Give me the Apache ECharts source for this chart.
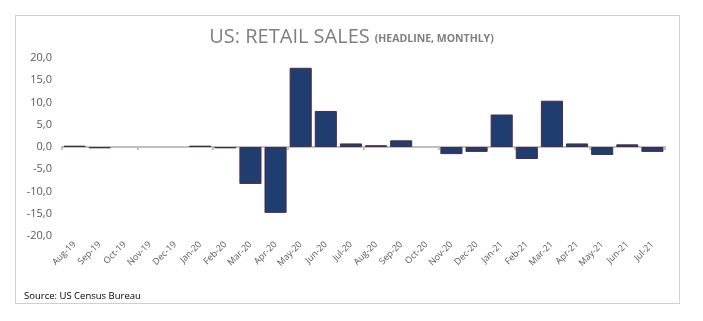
<!DOCTYPE html>
<html>
<head>
<meta charset="utf-8">
<script src="https://cdn.jsdelivr.net/npm/echarts@6/dist/echarts.min.js"></script>
<style>
html,body{margin:0;padding:0;background:#fff;}
#frame{position:absolute;left:15px;top:15px;width:665px;height:289px;border:1px solid #d0d0d0;box-sizing:border-box;}
#c{position:absolute;left:0;top:0;width:703px;height:321px;}
</style>
</head>
<body>
<div id="frame"></div>
<div id="c"></div>
<script>
const categories = ["Aug-19","Sep-19","Oct-19","Nov-19","Dec-19","Jan-20","Feb-20","Mar-20","Apr-20","May-20","Jun-20","Jul-20","Aug-20","Sep-20","Oct-20","Nov-20","Dec-20","Jan-21","Feb-21","Mar-21","Apr-21","May-21","Jun-21","Jul-21"];
const retailSales = [0.3,-0.3,0,0,0,0.3,-0.3,-8.3,-14.8,17.8,8.1,0.8,0.4,1.5,0,-1.6,-1.1,7.3,-2.7,10.4,0.8,-1.8,0.6,-1.1];
const yTicks = {min:-20,max:20,interval:5};

const chart = echarts.init(document.getElementById('c'), null, {renderer:'canvas'});
chart.setOption({
  animation:false,
  title:{
    text:'{a|US: RETAIL SALES} {b|(HEADLINE, MONTHLY)}',
    left:'center', top:22,
    textStyle:{
      rich:{
        a:{fontFamily:'Open Sans',fontSize:20,color:'#7f7f7f',fontWeight:'normal'},
        b:{fontFamily:'Open Sans',fontSize:10.5,color:'#7f7f7f',padding:[5,0,0,0]}
      }
    }
  },
  graphic:[{type:'text',left:24,top:291,style:{text:'Source: US Census Bureau',fontFamily:'Open Sans',fontSize:9.5,fill:'#000'}}],
  grid:{left:62,right:38,top:58,bottom:85},
  xAxis:[{
    type:'category',data:categories,
    axisLine:{onZero:true,lineStyle:{color:'#bfbfbf',width:2}},
    axisTick:{show:true,alignWithLabel:false,length:3,lineStyle:{color:'#bfbfbf',width:2}},
    axisLabel:{show:false},splitLine:{show:false}
  },{
    type:'category',data:categories,position:'bottom',
    axisLine:{show:false,onZero:false},axisTick:{show:false},
    axisLabel:{rotate:45,interval:0,margin:7,fontSize:9,color:'#595959',fontFamily:'Open Sans'}
  }],
  yAxis:{
    type:'value',min:yTicks.min,max:yTicks.max,interval:yTicks.interval,
    axisLine:{show:false},axisTick:{show:false},splitLine:{show:false},
    axisLabel:{margin:10,fontSize:11,color:'#595959',fontFamily:'Open Sans',formatter:v=>v.toFixed(1).replace('.',',')}
  },
  series:[{
    type:'bar',xAxisIndex:0,barCategoryGap:'12%',z:1,
    data:retailSales.map(v=>v===0?{value:v,itemStyle:{borderWidth:0}}:v),
    itemStyle:{color:'#1f3d6e',borderColor:'#4a2b48',borderWidth:1}
  }]
});
</script>
</body>
</html>
